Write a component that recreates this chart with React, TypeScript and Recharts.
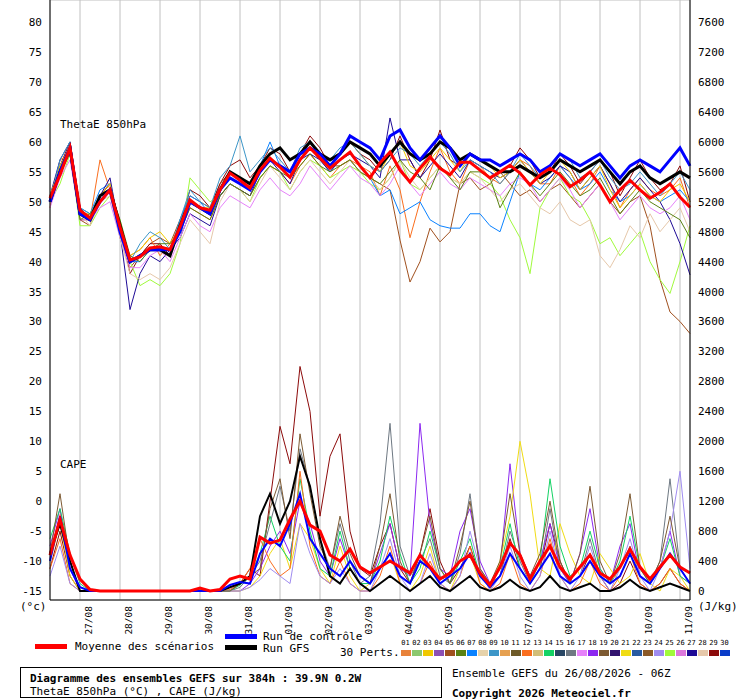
import { LineChart, Line, XAxis, YAxis, CartesianGrid } from "recharts"

// forecast hours, every 6h from 26/08 06Z
const hours = Array.from({ length: 65 }, (_, i) => i * 6)
const dayTicks = [18, 42, 66, 90, 114, 138, 162, 186, 210, 234, 258, 282, 306, 330, 354, 378]
const dayLabels = ["27/08", "28/08", "29/08", "30/08", "31/08", "01/09", "02/09", "03/09", "04/09", "05/09", "06/09", "07/09", "08/09", "09/09", "10/09", "11/09"]
const leftTicks = [-15, -10, -5, 0, 5, 10, 15, 20, 25, 30, 35, 40, 45, 50, 55, 60, 65, 70, 75, 80]
const rightTicks = Array.from({ length: 20 }, (_, i) => i * 400)

const PERT_COLORS = ["#E8823A", "#8CC86E", "#F0C800", "#8C50B4", "#A0501E", "#5A8214", "#0A82FF", "#E6D2AA", "#3C96C8", "#E6A050", "#6E5A28", "#FA6E1E", "#D2BE78", "#14D264", "#284664", "#6E7882", "#E682FA", "#8C28F0", "#7D5A32", "#32146E", "#F0DC14", "#285AA0", "#8C5A28", "#A08CF0", "#A0FA3C", "#DC78DC", "#1E0A96", "#E6C8AA", "#8C0A0A", "#0A3CC8"]

// ThetaE 850hPa (°C)
const thetaMean = [50.6, 54.5, 59, 48.6, 47.3, 50, 52, 45.8, 40.3, 40.8, 42.3, 42.5, 42, 45.8, 50.3, 49, 48.6, 52, 54.8, 53.6, 52.3, 55.3, 57.3, 55.8, 54.1, 57, 59, 57.3, 55.6, 57, 58.3, 56, 54, 56.5, 58.3, 55.3, 53.3, 55.6, 57.5, 55.6, 54.5, 56.6, 56.6, 55.3, 54, 55, 56.1, 54.8, 52.8, 54.5, 55.6, 54.5, 52.5, 53.6, 55, 52.8, 50, 52, 53.6, 52, 50.6, 51.6, 53, 50.8, 49.1]
const thetaControl = [50, 55, 59, 48, 47, 50, 52, 45, 40, 41, 42, 42, 42, 45, 50, 49, 48, 52, 54, 53, 52, 55, 57, 56, 55, 58, 59, 58, 56, 58, 61, 60, 59, 57, 61, 62, 59, 57, 59, 61, 59, 56, 58, 57, 57, 56, 57, 58, 57, 55, 56, 58, 57, 56, 57, 58, 56, 54, 56, 57, 56, 55, 57, 59, 56]
const thetaGfs = [50, 55, 59, 48, 47, 51, 52, 46, 40, 41, 42, 42, 41, 46, 50, 49, 48, 52, 55, 54, 53, 56, 58, 59, 57, 58, 60, 58, 57, 58, 60, 59, 58, 56, 58, 60, 58, 57, 58, 60, 59, 57, 58, 57, 56, 55, 55, 56, 55, 54, 55, 57, 56, 55, 56, 57, 55, 53, 55, 56, 54, 53, 54, 55, 54]
const thetaP05 = [50, 55, 58, 47, 46, 51, 53, 44, 39, 41, 43, 44, 43, 47, 51, 50, 49, 53, 55, 54, 53, 56, 57, 56, 55, 57, 59, 57, 56, 56, 57, 55, 54, 53, 52, 43.6, 36.6, 40, 45.6, 43.3, 45, 53, 54, 52, 53, 55, 53, 51, 52, 50, 52, 53, 51, 49, 51, 53, 50, 48, 50, 51, 46, 37, 31.6, 30, 28]
const thetaP29 = [51, 56, 60, 47, 47, 51, 53, 46, 38, 41, 43, 43, 41, 46, 52, 51, 49, 53, 56, 57, 54, 56, 59, 58, 55, 58, 61, 59, 56, 58, 60, 58, 57, 55, 57, 61, 57, 54, 57, 62, 57, 56, 58, 57, 56, 55, 56, 59, 57, 54, 55, 58, 56, 53, 55, 57, 55, 51, 54, 57, 54, 52, 53, 56, 50]
const thetaP12 = [49, 57, 58, 48, 47, 57, 52, 45, 41, 42, 44, 41, 43, 45, 49, 48, 47, 51, 53, 52, 51, 54, 56, 55, 53, 56, 58, 56, 54, 56, 57, 56, 55, 51, 56, 52, 44, 50, 55, 59, 55, 53, 57, 56, 54, 53, 55, 57, 56, 53, 53, 56, 54, 51, 53, 56, 53, 49, 52, 54, 52, 51, 52, 54, 49]
const thetaP25 = [50, 53, 58, 46, 46, 49, 51, 47, 40, 36, 37, 36, 38, 43, 54, 52, 50, 51, 53, 52, 50, 54, 56, 55, 52, 55, 57, 56, 54, 55, 56, 55, 53, 52, 54, 57, 53, 52, 54, 56, 54, 53, 55, 54, 53, 51, 47, 44, 38, 49, 52, 54, 51, 50, 47, 43, 44, 41, 43, 45, 40, 37, 34.7, 40, 46]
const thetaP07 = [50, 56, 59, 49, 48, 52, 53, 46, 40, 40, 42, 42, 41, 47, 51, 50, 48, 52, 55, 54, 53, 56, 60, 56, 55, 58, 59, 57, 55, 57, 58, 56, 54, 51, 52, 48, 49, 50, 47, 46, 45.6, 45.6, 48, 48, 46, 45, 50, 55, 53, 52, 54, 56, 54, 52, 53, 55, 52, 50, 51, 53, 51, 50, 51, 52, 50]
const thetaP27 = [51, 57, 60, 49, 47, 51, 54, 45, 32, 38, 41, 40, 42, 44, 48, 47, 46, 51, 53, 52, 51, 55, 57, 55, 53, 57, 58, 57, 55, 57, 58, 57, 56, 54, 64, 57, 57, 54, 56, 58, 56, 54, 57, 56, 55, 54, 55, 57, 55, 53, 54, 56, 55, 52, 54, 56, 53, 50, 52, 54, 52, 50, 47, 43, 37.8]
const thetaP17 = [49, 54, 57, 47, 47, 49, 50, 44, 39, 39, 41, 42, 40, 44, 48, 46, 45, 49, 51, 50, 49, 52, 54, 52, 51, 53, 56, 54, 52, 54, 56, 54, 53, 51, 53, 56, 53, 51, 53, 55, 53, 52, 54, 53, 52, 51, 53, 54, 53, 50, 52, 54, 52, 49, 51, 53, 50, 47, 49, 51, 49, 48, 49, 51, 47]
const thetaP28 = [50, 55, 58, 48, 46, 50, 51, 44, 38, 37, 38, 37, 39, 43, 47, 45, 43, 50, 53, 52, 50, 53, 56, 54, 52, 55, 57, 55, 53, 55, 57, 55, 54, 52, 54, 57, 54, 52, 54, 56, 54, 53, 55, 54, 52, 50, 52, 53, 51, 49, 48, 50, 47, 46, 47, 41, 39, 42, 46, 44, 48, 45, 47, 49, 45]
const thetaP03 = [51, 56, 59, 48, 48, 51, 53, 46, 41, 42, 44, 45, 43, 46, 50, 49, 49, 52, 55, 54, 52, 55, 57, 56, 54, 57, 60, 58, 56, 58, 60, 58, 56, 55, 58, 60, 56, 55, 57, 59, 57, 55, 58, 57, 56, 54, 55, 57, 55, 53, 55, 57, 55, 52, 54, 56, 52, 49, 51, 53, 51, 50, 52, 53, 50]
const thetaP09 = [50, 57, 60, 49, 48, 51, 52, 45, 40, 43, 45, 44, 42, 47, 52, 50, 49, 54, 56, 61, 55, 57, 59, 57, 55, 59, 60, 58, 57, 59, 60, 58, 56, 55, 57, 59, 58, 56, 58, 60, 58, 55, 57, 56, 55, 53, 55, 58, 56, 54, 56, 58, 57, 54, 55, 57, 54, 52, 53, 55, 53, 51, 53, 55, 52]
const thetaP06 = [50, 55, 58, 47, 48, 50, 52, 47, 41, 40, 42, 43, 43, 45, 49, 48, 47, 51, 53, 52, 51, 54, 56, 55, 54, 56, 58, 56, 55, 56, 57, 55, 54, 53, 55, 57, 55, 54, 52, 56, 54, 52, 55, 55, 54, 49, 52, 55, 53, 51, 53, 55, 53, 51, 52, 54, 51, 48, 50, 52, 50, 49, 48, 47, 44]

// CAPE (J/kg)
const capeMean = [480, 960, 480, 160, 20, 0, 0, 0, 0, 0, 0, 0, 0, 0, 0, 40, 0, 20, 160, 200, 160, 720, 640, 680, 960, 1200, 880, 800, 480, 400, 560, 320, 240, 320, 400, 320, 240, 480, 320, 160, 240, 400, 480, 240, 80, 320, 640, 480, 160, 400, 600, 320, 160, 320, 480, 240, 160, 320, 560, 320, 160, 320, 480, 320, 240]
const capeControl = [400, 1000, 300, 50, 0, 0, 0, 0, 0, 0, 0, 0, 0, 0, 0, 0, 0, 0, 80, 120, 100, 500, 700, 600, 900, 1300, 700, 500, 300, 200, 400, 200, 100, 300, 500, 200, 100, 400, 300, 100, 200, 300, 500, 200, 50, 200, 500, 300, 100, 300, 500, 200, 100, 200, 400, 200, 100, 200, 500, 200, 100, 300, 500, 300, 100]
const capeGfs = [500, 900, 400, 0, 0, 0, 0, 0, 0, 0, 0, 0, 0, 0, 0, 0, 0, 0, 50, 100, 200, 1000, 1300, 900, 1200, 1800, 1400, 700, 200, 100, 300, 100, 0, 100, 200, 100, 0, 100, 200, 50, 0, 100, 200, 50, 0, 50, 150, 50, 0, 50, 200, 50, 0, 50, 100, 0, 0, 50, 150, 50, 0, 50, 100, 50, 0]
const capeP29 = [300, 800, 200, 0, 0, 0, 0, 0, 0, 0, 0, 0, 0, 0, 0, 0, 0, 0, 0, 100, 300, 200, 1200, 2200, 1700, 3000, 2400, 1000, 1800, 2100, 800, 300, 200, 600, 900, 300, 100, 500, 1100, 400, 100, 300, 600, 200, 100, 200, 700, 300, 100, 300, 900, 400, 100, 200, 500, 200, 0, 100, 400, 100, 0, 100, 300, 100, 0]
const capeP16 = [500, 1000, 400, 0, 0, 0, 0, 0, 0, 0, 0, 0, 0, 0, 0, 0, 0, 0, 0, 50, 200, 400, 900, 1400, 800, 1900, 1400, 700, 300, 900, 400, 100, 200, 900, 2240, 600, 200, 400, 700, 200, 100, 500, 1300, 300, 100, 200, 800, 400, 100, 300, 1100, 300, 100, 200, 700, 200, 100, 300, 600, 200, 100, 400, 1500, 300, 100]
const capeP18 = [600, 1100, 300, 0, 0, 0, 0, 0, 0, 0, 0, 0, 0, 0, 0, 0, 0, 0, 0, 0, 100, 300, 600, 800, 500, 1200, 900, 400, 200, 700, 300, 100, 100, 500, 900, 300, 200, 2240, 900, 300, 200, 800, 1100, 400, 100, 300, 1700, 500, 200, 400, 900, 300, 100, 500, 1100, 300, 100, 600, 900, 200, 100, 300, 800, 200, 100]
const capeP21 = [400, 900, 200, 0, 0, 0, 0, 0, 0, 0, 0, 0, 0, 0, 0, 0, 0, 0, 0, 0, 50, 200, 500, 700, 300, 900, 700, 300, 100, 600, 200, 0, 100, 300, 500, 100, 0, 200, 600, 100, 0, 300, 500, 100, 0, 400, 1000, 2000, 1300, 300, 200, 900, 500, 200, 100, 500, 300, 100, 200, 500, 100, 0, 300, 200, 0]
const capeP14 = [700, 1100, 500, 100, 0, 0, 0, 0, 0, 0, 0, 0, 0, 0, 0, 20, 0, 0, 0, 80, 200, 500, 1000, 600, 400, 1500, 800, 300, 200, 800, 300, 100, 100, 400, 1000, 500, 100, 300, 800, 300, 100, 400, 700, 200, 100, 300, 900, 300, 100, 400, 1500, 600, 200, 300, 800, 300, 100, 400, 1000, 300, 100, 300, 700, 200, 100]
const capeP12 = [300, 700, 100, 0, 0, 0, 0, 0, 0, 0, 0, 0, 0, 0, 0, 0, 0, 0, 20, 100, 300, 700, 400, 200, 300, 1600, 600, 200, 100, 400, 100, 0, 0, 200, 600, 100, 0, 100, 400, 100, 0, 200, 600, 100, 0, 100, 500, 100, 0, 200, 700, 200, 0, 100, 400, 100, 0, 200, 500, 100, 0, 100, 300, 100, 0]
const capeP24 = [200, 600, 100, 0, 0, 0, 0, 0, 0, 0, 0, 0, 0, 0, 0, 0, 0, 0, 0, 0, 50, 150, 300, 200, 100, 900, 500, 200, 100, 300, 100, 0, 0, 300, 700, 200, 0, 100, 500, 100, 0, 200, 800, 300, 0, 200, 600, 200, 0, 200, 800, 200, 0, 200, 600, 200, 0, 300, 700, 200, 0, 300, 800, 1600, 300]
const capeP19 = [500, 1300, 400, 0, 0, 0, 0, 0, 0, 0, 0, 0, 0, 0, 0, 0, 0, 0, 0, 100, 200, 300, 1100, 1500, 700, 2100, 1300, 600, 300, 1000, 500, 200, 100, 600, 1300, 400, 100, 500, 1000, 300, 100, 600, 1200, 300, 100, 400, 1300, 500, 200, 500, 1200, 400, 100, 500, 1400, 400, 100, 500, 1300, 300, 100, 400, 1000, 300, 100]

const thetaMembers: [number[], number][] = [
  [thetaP05, 4], [thetaP29, 28], [thetaP12, 11], [thetaP25, 24], [thetaP07, 6], [thetaP27, 26],
  [thetaP17, 16], [thetaP28, 27], [thetaP03, 2], [thetaP09, 8], [thetaP06, 5],
]
const capeMembers: [number[], number][] = [
  [capeP29, 28], [capeP16, 15], [capeP18, 17], [capeP21, 20], [capeP14, 13], [capeP12, 11], [capeP24, 23], [capeP19, 18],
]

const rows = hours.map((t, i) => {
  const r: Record<string, number> = { t, thM: thetaMean[i], thC: thetaControl[i], thG: thetaGfs[i], caM: capeMean[i], caC: capeControl[i], caG: capeGfs[i] }
  thetaMembers.forEach(([a], k) => { r["th" + k] = a[i] })
  capeMembers.forEach(([a], k) => { r["ca" + k] = a[i] })
  return r
})

const FONT = "'DejaVu Sans Mono', monospace"

function DateTick({ x, y, payload }: any) {
  const label = dayLabels[dayTicks.indexOf(payload.value)]
  const ax = x + 12
  const ay = y - 2
  return (
    <text x={ax} y={ay} transform={`rotate(-90 ${ax} ${ay})`} textAnchor="end" fontSize={9.5} fontFamily={FONT} fill="#000">
      {label}
    </text>
  )
}

const abs = (l: number, t: number, extra: any = {}) => ({ position: "absolute" as const, left: l, top: t, fontFamily: FONT, fontSize: 11, lineHeight: "11px", whiteSpace: "nowrap" as const, ...extra })

export default function App() {
  return (
    <div style={{ position: "absolute", left: 0, top: 0, width: 740, height: 700, background: "#fff" }}>
      <LineChart width={740} height={700} data={rows} margin={{ top: 0, right: 0, bottom: 0, left: 0 }}>
        <CartesianGrid stroke="#c0c0c0" vertical horizontal />
        <XAxis dataKey="t" type="number" domain={[0, 384]} ticks={dayTicks} tick={<DateTick />} tickLine={false} axisLine={{ stroke: "#000" }} interval={0} height={100} />
        <YAxis yAxisId="l" width={50} domain={[-16.5, 83.7]} ticks={leftTicks} tickLine={false} axisLine={{ stroke: "#000" }} tick={{ fontSize: 11, fontFamily: FONT, fill: "#000" }} interval={0} />
        <YAxis yAxisId="r" orientation="right" width={50} domain={[-120, 7896]} ticks={rightTicks} tickLine={false} axisLine={{ stroke: "#000" }} tick={{ fontSize: 11, fontFamily: FONT, fill: "#000" }} interval={0} />
        {thetaMembers.map(([, c], k) => (
          <Line key={"th" + k} yAxisId="l" dataKey={"th" + k} stroke={PERT_COLORS[c]} strokeWidth={1} dot={false} isAnimationActive={false} />
        ))}
        {capeMembers.map(([, c], k) => (
          <Line key={"ca" + k} yAxisId="r" dataKey={"ca" + k} stroke={PERT_COLORS[c]} strokeWidth={1} dot={false} isAnimationActive={false} />
        ))}
        <Line yAxisId="l" dataKey="thG" stroke="#000" strokeWidth={3} dot={false} isAnimationActive={false} />
        <Line yAxisId="l" dataKey="thC" stroke="#0000ff" strokeWidth={3} dot={false} isAnimationActive={false} />
        <Line yAxisId="l" dataKey="thM" stroke="#ff0000" strokeWidth={3} dot={false} isAnimationActive={false} />
        <Line yAxisId="r" dataKey="caG" stroke="#000" strokeWidth={2} dot={false} isAnimationActive={false} />
        <Line yAxisId="r" dataKey="caC" stroke="#0000ff" strokeWidth={2} dot={false} isAnimationActive={false} />
        <Line yAxisId="r" dataKey="caM" stroke="#ff0000" strokeWidth={3} dot={false} isAnimationActive={false} />
      </LineChart>

      <div style={abs(60, 119)}>ThetaE 850hPa</div>
      <div style={abs(60, 459)}>CAPE</div>
      <div style={abs(20, 601)}>(°c)</div>
      <div style={abs(698, 601)}>(J/kg)</div>

      <div style={abs(35, 644, { width: 32, height: 5, background: "#ff0000" })} />
      <div style={abs(75, 641)}>Moyenne des scénarios</div>
      <div style={abs(225, 634, { width: 32, height: 5, background: "#0000ff" })} />
      <div style={abs(263, 631, { height: 11, overflow: "visible" })}>Run de contrôle</div>
      <div style={abs(225, 645, { width: 32, height: 5, background: "#000" })} />
      <div style={abs(263, 643)}>Run GFS</div>
      <div style={abs(340, 647)}>30 Perts.</div>
      {PERT_COLORS.map((c, i) => (
        <div key={i}>
          <div style={abs(400 + i * 11, 640, { fontSize: 7, lineHeight: "7px", width: 11, textAlign: "center" })}>{String(i + 1).padStart(2, "0")}</div>
          <div style={abs(401 + i * 11, 650, { width: 10, height: 6, background: c })} />
        </div>
      ))}

      <div style={abs(20, 667, { width: 422, height: 31, border: "1px solid #000", boxSizing: "border-box" })} />
      <div style={abs(30, 673, { fontWeight: "bold" })}>Diagramme des ensembles GEFS sur 384h : 39.9N 0.2W</div>
      <div style={abs(30, 686)}>ThetaE 850hPa (°C) , CAPE (J/kg)</div>
      <div style={abs(452, 668)}>Ensemble GEFS du 26/08/2026 - 06Z</div>
      <div style={abs(452, 688, { fontWeight: "bold" })}>Copyright 2026 Meteociel.fr</div>
    </div>
  )
}
